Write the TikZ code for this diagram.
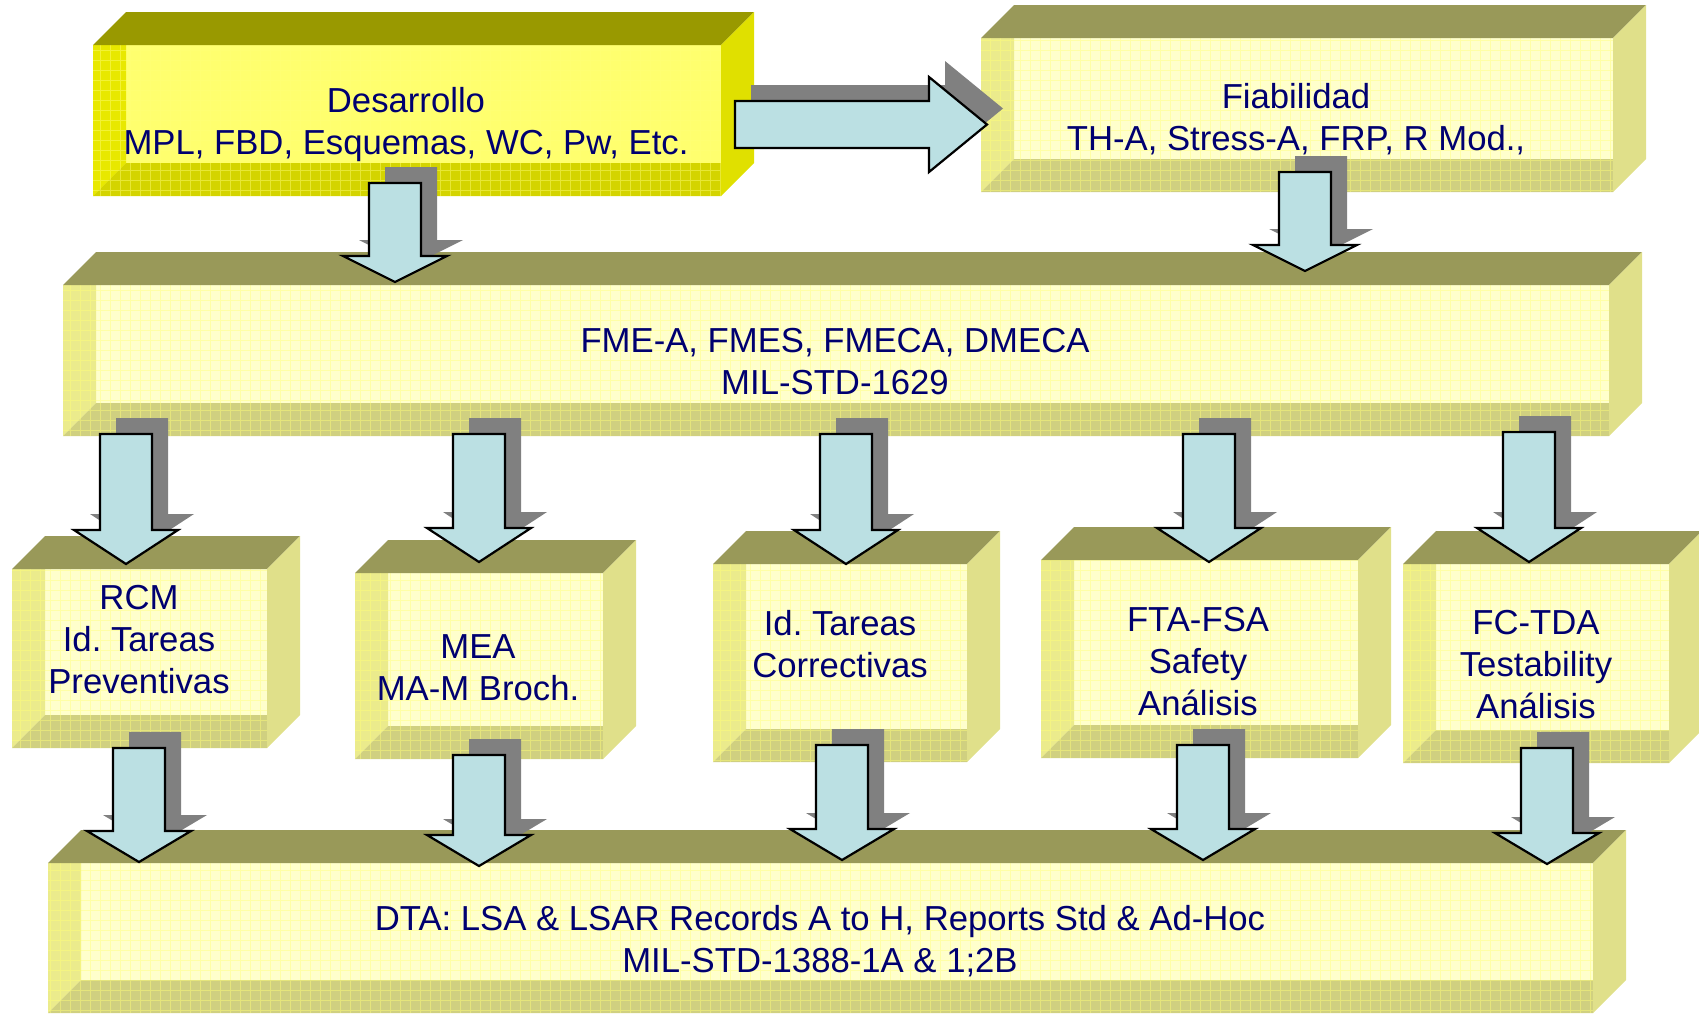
\documentclass[tikz,border=0pt]{standalone}
\usepackage{fontspec}
\setmainfont{Liberation Sans}
\usetikzlibrary{calc}
\frenchspacing

\definecolor{textblue}{RGB}{0,0,112}
\definecolor{arrowblue}{RGB}{187,224,227}
\definecolor{shadegray}{RGB}{128,128,128}
\definecolor{gridyellow}{RGB}{255,255,120}
% pale boxes
\definecolor{plainface}{RGB}{255,255,204}
\definecolor{plainwall}{RGB}{235,235,140}
\definecolor{plainfloor}{RGB}{208,208,128}
\definecolor{plaintop}{RGB}{153,153,89}
\definecolor{plainside}{RGB}{224,224,138}
% bright box
\definecolor{brightface}{RGB}{255,255,110}
\definecolor{brightwall}{RGB}{232,232,0}
\definecolor{brightfloor}{RGB}{212,212,0}
\definecolor{brighttop}{RGB}{153,153,0}
\definecolor{brightside}{RGB}{224,224,0}

\tikzset{
  boxtext/.style={text=textblue, align=center, inner sep=0pt,
    font=\fontsize{34.7}{42}\selectfont},
  gridlines/.style={draw=gridyellow, line width=0.7pt, opacity=0.45, step=10pt},
  arrowfill/.style={fill=arrowblue, draw=black, line width=2.2pt, line join=miter},
  arrowshade/.style={fill=shadegray, transform canvas={shift={(16pt,16pt)}}},
}

% hollow 3D box: #1 name, #2 front north west, #3 front south east, #4 palette
\newcommand{\hollowbox}[4]{%
  \coordinate (#1-nw) at #2;
  \coordinate (#1-se) at #3;
  \coordinate (#1-ne) at (#1-se |- #1-nw);
  \coordinate (#1-sw) at (#1-nw |- #1-se);
  \fill[fill=#4face] (#1-nw) rectangle (#1-se);
  \fill[fill=#4wall] (#1-nw) -- ++(33,0) -- ($(#1-sw)+(33,-33)$) -- (#1-sw) -- cycle;
  \fill[fill=#4floor] (#1-sw) -- ($(#1-sw)+(33,-33)$) -- ($(#1-se)+(0,-33)$) -- (#1-se) -- cycle;
  \begin{scope}
    \clip (#1-nw) rectangle (#1-se);
    \draw[gridlines] (#1-nw) grid (#1-se);
  \end{scope}
  \fill[fill=#4top] (#1-nw) -- ($(#1-nw)+(33,-33)$) -- ($(#1-ne)+(33,-33)$) -- (#1-ne) -- cycle;
  \fill[fill=#4side] (#1-ne) -- ($(#1-ne)+(33,-33)$) -- ($(#1-se)+(33,-33)$) -- (#1-se) -- cycle;
}

% block arrow pointing down: #1 tail, #2 tip, #3 head length
\newcommand{\downblock}[3]{%
  \fill[arrowshade] ($(#1)+(-26,0)$) -- ($(#1)+(26,0)$) -- ($(#2)+(26,-#3)$) -- ($(#2)+(52,-#3)$)
    -- (#2) -- ($(#2)+(-52,-#3)$) -- ($(#2)+(-26,-#3)$) -- cycle;
  \draw[arrowfill] ($(#1)+(-26,0)$) -- ($(#1)+(26,0)$) -- ($(#2)+(26,-#3)$) -- ($(#2)+(52,-#3)$)
    -- (#2) -- ($(#2)+(-52,-#3)$) -- ($(#2)+(-26,-#3)$) -- cycle;
}

\begin{document}
\begin{tikzpicture}[x=1pt,y=-1pt]
	\useasboundingbox (0,0) rectangle (1699,1013);

	% Boxes:
	\hollowbox{dev}{(93,45)}{(721,196)}{bright}
	\hollowbox{fia}{(981,38)}{(1613,192)}{plain}
	\hollowbox{fme}{(63,285)}{(1609,436)}{plain}
	\hollowbox{rcm}{(12,569)}{(267,748)}{plain}
	\hollowbox{mea}{(355,573)}{(603,759)}{plain}
	\hollowbox{idt}{(713,564)}{(967,762)}{plain}
	\hollowbox{fta}{(1041,560)}{(1358,758)}{plain}
	\hollowbox{fct}{(1403,564)}{(1669,763)}{plain}
	\hollowbox{dta}{(48,863)}{(1593,1013)}{plain}

	% Labels:
	\node[boxtext] (dev-txt) at (406,125) {Desarrollo\\MPL, FBD, Esquemas, WC, Pw, Etc.};
	\node[boxtext] (fia-txt) at (1296,119) {Fiabilidad\\TH-A, Stress-A, FRP, R Mod.,};
	\node[boxtext] (fme-txt) at (835,361.5) {FME-A, FMES, FMECA, DMECA\\MIL-STD-1629};
	\node[boxtext] (rcm-txt) at (139,640) {RCM\\Id. Tareas\\Preventivas};
	\node[boxtext] (mea-txt) at (478,667.5) {MEA\\MA-M Broch.};
	\node[boxtext] (idt-txt) at (840,644) {Id. Tareas\\Correctivas};
	\node[boxtext] (fta-txt) at (1198,662) {FTA-FSA\\Safety\\Análisis};
	\node[boxtext] (fct-txt) at (1536,665) {FC-TDA\\Testability\\Análisis};
	\node[boxtext] (dta-txt) at (820,941) {DTA: LSA \& LSAR Records A to H, Reports Std \& Ad-Hoc\\MIL-STD-1388-1A \& 1;2B};

	% Arrow ends:
	\coordinate (dev-out) at (735,124.5); \coordinate (fia-in) at (987,124.5);
	\coordinate (dev-dn) at (395,183);    \coordinate (fme-in1) at (395,282);
	\coordinate (fia-dn) at (1305,172);   \coordinate (fme-in2) at (1305,271);
	\coordinate (fme-o1) at (126,434);  \coordinate (rcm-in) at (126,564);
	\coordinate (fme-o2) at (479,434);  \coordinate (mea-in) at (479,562);
	\coordinate (fme-o3) at (846,434);  \coordinate (idt-in) at (846,564);
	\coordinate (fme-o4) at (1209,434); \coordinate (fta-in) at (1209,562);
	\coordinate (fme-o5) at (1529,432); \coordinate (fct-in) at (1529,562);
	\coordinate (rcm-out) at (139,748);  \coordinate (dta-i1) at (139,862);
	\coordinate (mea-out) at (479,755);  \coordinate (dta-i2) at (479,866);
	\coordinate (idt-out) at (842,745);  \coordinate (dta-i3) at (842,860);
	\coordinate (fta-out) at (1203,745); \coordinate (dta-i4) at (1203,860);
	\coordinate (fct-out) at (1547,748); \coordinate (dta-i5) at (1547,864);

	% Block arrows:
	\fill[arrowshade] ($(dev-out)+(0,-23.5)$) -- ($(fia-in)+(-58,-23.5)$) -- ($(fia-in)+(-58,-47.5)$) -- (fia-in)
		-- ($(fia-in)+(-58,47.5)$) -- ($(fia-in)+(-58,23.5)$) -- ($(dev-out)+(0,23.5)$) -- cycle;
	\draw[arrowfill] ($(dev-out)+(0,-23.5)$) -- ($(fia-in)+(-58,-23.5)$) -- ($(fia-in)+(-58,-47.5)$) -- (fia-in)
		-- ($(fia-in)+(-58,47.5)$) -- ($(fia-in)+(-58,23.5)$) -- ($(dev-out)+(0,23.5)$) -- cycle;
	\downblock{dev-dn}{fme-in1}{26}
	\downblock{fia-dn}{fme-in2}{26}
	\downblock{fme-o1}{rcm-in}{34}
	\downblock{fme-o2}{mea-in}{34}
	\downblock{fme-o3}{idt-in}{34}
	\downblock{fme-o4}{fta-in}{34}
	\downblock{fme-o5}{fct-in}{34}
	\downblock{rcm-out}{dta-i1}{31}
	\downblock{mea-out}{dta-i2}{31}
	\downblock{idt-out}{dta-i3}{31}
	\downblock{fta-out}{dta-i4}{31}
	\downblock{fct-out}{dta-i5}{31}
\end{tikzpicture}
\end{document}
